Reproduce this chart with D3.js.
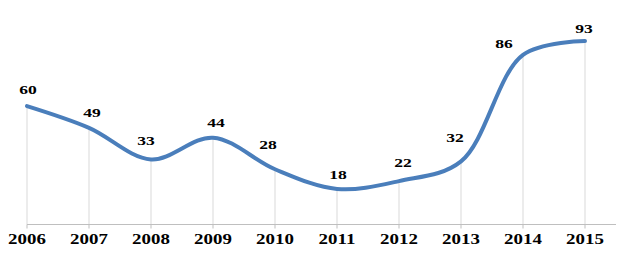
<!DOCTYPE html>
<html lang="en">
<head>
<meta charset="UTF-8">
<title>Line chart</title>
<style>
  body { margin: 0; background: #fff; }
</style>
</head>
<body>
<svg width="621" height="260"></svg>
<script src="https://cdn.jsdelivr.net/npm/d3@7"></script>
<script>
var years = ["2006", "2007", "2008", "2009", "2010", "2011", "2012", "2013", "2014", "2015"];
var values = [60, 49, 33, 44, 28, 18, 22, 32, 86, 93];

var svg = d3.select("svg");
var stretch = 1.35; // the picture is stretched sideways
var serif = "'Liberation Serif', 'Times New Roman', 'DejaVu Serif', serif";

var x = d3.scalePoint()
    .domain(years)
    .range([27, 585]);

var y = d3.scaleLinear()
    .domain([0, 100])
    .range([224.5, 27.2]);

// vertical drop lines from each point down to the axis
svg.selectAll(".drop")
    .data(values)
    .enter()
    .append("line")
    .attr("class", "drop")
    .attr("x1", function (d, i) { return x(years[i]); })
    .attr("x2", function (d, i) { return x(years[i]); })
    .attr("y1", y(0))
    .attr("y2", function (d) { return y(d); })
    .attr("stroke", "#d9d9d9")
    .attr("stroke-width", 1);

// axis line + ticks
svg.append("line")
    .attr("x1", 27).attr("x2", 616)
    .attr("y1", y(0)).attr("y2", y(0))
    .attr("stroke", "#bfbfbf")
    .attr("stroke-width", 1);

svg.selectAll(".tick")
    .data(years)
    .enter()
    .append("line")
    .attr("class", "tick")
    .attr("x1", function (d) { return x(d); })
    .attr("x2", function (d) { return x(d); })
    .attr("y1", y(0))
    .attr("y2", y(0) + 4)
    .attr("stroke", "#bfbfbf");

svg.selectAll(".year")
    .data(years)
    .enter()
    .append("text")
    .attr("class", "year")
    .attr("text-anchor", "middle")
    .attr("font-family", serif)
    .attr("font-weight", "bold")
    .attr("font-size", 14)
    .attr("fill", "#000")
    .attr("transform", function (d) { return "translate(" + x(d) + ",244) scale(" + stretch + ",1)"; })
    .text(function (d) { return d; });

// smoothed series line
var line = d3.line()
    .x(function (d, i) { return x(years[i]); })
    .y(function (d) { return y(d); })
    .curve(d3.curveCatmullRom.alpha(0.5));

svg.append("path")
    .datum(values)
    .attr("fill", "none")
    .attr("stroke", "#4a7ebb")
    .attr("stroke-width", 4)
    .attr("stroke-linecap", "round")
    .attr("d", line);

// data labels, nudged where the curve gets in the way
var nudge = [[1, -12], [3, -11], [-5, -14], [3, -11], [-7, -20], [1, -10], [4, -14], [-6, -19], [-19, -7], [-1, -8]];

svg.selectAll(".lbl")
    .data(values)
    .enter()
    .append("text")
    .attr("class", "lbl")
    .attr("text-anchor", "middle")
    .attr("font-family", serif)
    .attr("font-weight", "bold")
    .attr("font-size", 13)
    .attr("fill", "#000")
    .attr("transform", function (d, i) {
        var px = x(years[i]) + nudge[i][0];
        var py = y(d) + nudge[i][1];
        return "translate(" + px + "," + py + ") scale(" + stretch + ",1)";
    })
    .text(function (d) { return d; });
</script>
</body>
</html>
